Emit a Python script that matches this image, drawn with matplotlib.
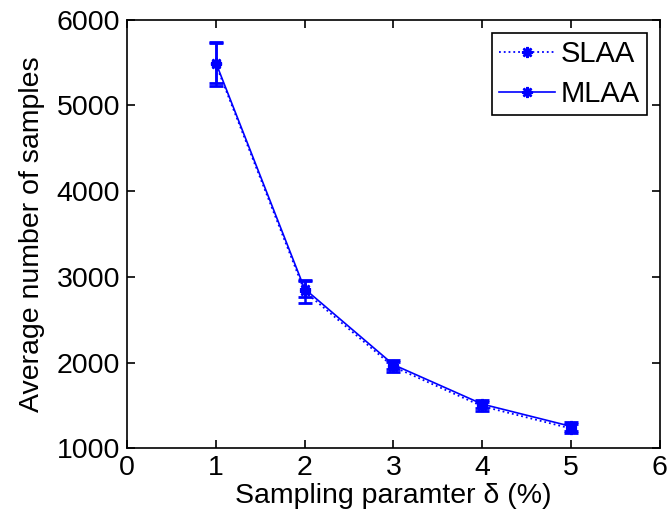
import matplotlib.pyplot as plt

plt.rcParams['font.family'] = ['Liberation Sans', 'DejaVu Sans']

# 采样参数 (%)
delta = [1, 2, 3, 4, 5]

# 平均样本数及误差
slaa_mean = [5480, 2830, 1950, 1490, 1230]
slaa_err = [250, 130, 60, 55, 55]
mlaa_mean = [5500, 2860, 1975, 1515, 1255]
mlaa_err = [235, 95, 50, 50, 50]

fig = plt.figure(figsize=(6.72, 5.2), dpi=100)
ax = fig.add_axes([0.189, 0.138, 0.793, 0.824])

blue = '#0000ff'
star = (8, 2, 0)

# 误差线
ax.errorbar(delta, slaa_mean, yerr=slaa_err, fmt='none', ecolor=blue,
            capsize=5, capthick=2, elinewidth=1.8)
ax.errorbar(delta, mlaa_mean, yerr=mlaa_err, fmt='none', ecolor=blue,
            capsize=5, capthick=2, elinewidth=1.8)

# 曲线
ax.plot(delta, slaa_mean, color=blue, ls=':', lw=1.3, marker=star, ms=8, mew=1.8, label='SLAA')
ax.plot(delta, mlaa_mean, color=blue, ls='-', lw=1.2, marker=star, ms=8, mew=1.8, label='MLAA')

ax.set_xlim(0, 6)
ax.set_ylim(1000, 6000)
ax.set_xticks(range(0, 7))
ax.set_yticks(range(1000, 6001, 1000))

ax.tick_params(direction='in', top=True, right=True, labelsize=20.5, length=6, width=1.2, pad=5)
for s in ax.spines.values():
    s.set_linewidth(1.2)

ax.set_xlabel('Sampling paramter δ (%)', fontsize=20.5, labelpad=1)
ax.set_ylabel('Average number of samples', fontsize=20.5, labelpad=8)

leg = ax.legend(loc='upper right', fontsize=21, fancybox=False, edgecolor='black',
                framealpha=1, borderpad=0.25, handlelength=1.9, handletextpad=0.2,
                labelspacing=0.4, borderaxespad=0.45)
leg.get_frame().set_linewidth(1.2)

plt.savefig('out.png', dpi=100)
plt.close()
